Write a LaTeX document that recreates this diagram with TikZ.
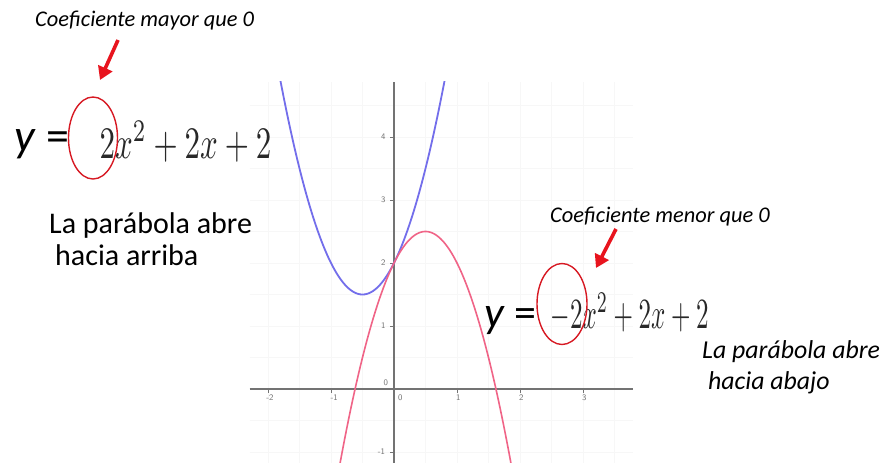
\documentclass[tikz,border=0pt]{standalone}
\usepackage{fontspec}
\setmainfont{Carlito}
\usetikzlibrary{arrows.meta,shapes.geometric}
\definecolor{arrred}{RGB}{232,20,30}
\definecolor{ellred}{RGB}{215,25,35}
\definecolor{bluecurve}{RGB}{115,110,235}
\definecolor{pinkcurve}{RGB}{240,100,135}
\definecolor{axisgray}{RGB}{115,115,115}
\definecolor{eqgray}{RGB}{40,40,40}
\begin{document}
\begin{tikzpicture}[x=1pt,y=-1pt,
  note/.style={inner sep=0, anchor=base west, font=\fontsize{22.4}{26}\selectfont\itshape},
  bigtxt/.style={inner sep=0, anchor=base west, font=\fontsize{30}{35}\selectfont},
  ittxt/.style={inner sep=0, anchor=base west, font=\fontsize{25.8}{30}\selectfont\itshape},
  yeq/.style={inner sep=0, anchor=base west},
  eqn/.style={inner sep=0, anchor=base west, text=eqgray},
  ring/.style={draw=ellred, ellipse, line width=1.4pt, inner sep=0},
  pointer/.style={draw=arrred, line width=3.6pt, -{Triangle[length=13pt,width=15pt]}},
  ticklbl/.style={inner sep=0, text=black!55, font=\sffamily\fontsize{8.5}{9}\selectfont}]
\useasboundingbox (0,0) rectangle (886,463);
\fill[white] (0,0) rectangle (886,463);

% ---- graph ----
\begin{scope}[shift={(394,389)},x=63pt,y=63pt]
  \clip (-2.29,-1.18) rectangle (3.80,4.88);
  \draw[black!3, step=0.5] (-2.29,-1.18) grid (3.80,4.88);
  \draw[axisgray, line width=1.2pt] (-2.29,0) -- (3.80,0);
  \draw[axisgray, line width=1.2pt] (0,-1.18) -- (0,4.88);
  \foreach \t in {-2,-1,1,2,3} \draw[axisgray, line width=0.8pt] (\t,0) -- (\t,-0.06);
  \foreach \t in {-1,1,2,3,4} \draw[axisgray, line width=0.8pt] (0,\t) -- (-0.06,\t);
  \node[ticklbl] (xm2) at (-1.97,-0.14) {-2};
  \node[ticklbl] (xm1) at (-0.95,-0.14) {-1};
  \node[ticklbl] (x0) at (0.10,-0.14) {0};
  \node[ticklbl] (x1) at (1.02,-0.14) {1};
  \node[ticklbl] (x2) at (2.02,-0.14) {2};
  \node[ticklbl] (x3) at (3.02,-0.14) {3};
  \node[ticklbl] (y4) at (-0.17,4.0) {4};
  \node[ticklbl] (y3) at (-0.17,3.0) {3};
  \node[ticklbl] (y2) at (-0.17,2.0) {2};
  \node[ticklbl] (y1) at (-0.17,1.0) {1};
  \node[ticklbl] (y0) at (-0.13,0.10) {0};
  \node[ticklbl] (ym1) at (-0.20,-1.0) {-1};
  \draw[bluecurve, line width=1.8pt, domain=-1.85:0.85, samples=120, smooth]
    plot (\x,{2*\x*\x+2*\x+2});
  \draw[pinkcurve, line width=1.6pt, domain=-0.9:1.9, samples=120, smooth]
    plot (\x,{-2*\x*\x+2*\x+2});
\end{scope}

% ---- left annotation ----
\node[note] (c1) at (35,26) {Coeficiente mayor que 0};
\node[yeq, font=\fontsize{46}{50}\selectfont] (yl) at (14,151) {\textit{y} =};
\node[eqn] (eq1) at (99.5,158) {\scalebox{3.1}[4.5]{$2x^2+2x+2$}};
\node[ring, minimum width=49pt, minimum height=82pt] (e1) at (93,138) {};
\coordinate (a1s) at (118,40);
\coordinate (a1e) at (100,80);
\draw[pointer] (a1s) -- (a1e);
\node[bigtxt] (l1) at (49,233) {La parábola abre};
\node[bigtxt] (l2) at (55,265) {hacia arriba};

% ---- right annotation ----
\node[note] (c2) at (550,222) {Coeficiente menor que 0};
\node[yeq, font=\fontsize{44}{48}\selectfont] (yr) at (484,327) {\textit{y} =};
\node[eqn] (eq2) at (550.5,328) {\scalebox{2.5}[4.3]{$-2x^2+2x+2$}};
\node[ring, minimum width=50pt, minimum height=81pt] (e2) at (562,304) {};
\coordinate (a2s) at (616,229);
\coordinate (a2e) at (596,268);
\draw[pointer] (a2s) -- (a2e);
\node[ittxt] (r1) at (702,358) {La parábola abre};
\node[ittxt] (r2) at (708,389) {hacia abajo};
\end{tikzpicture}
\end{document}
